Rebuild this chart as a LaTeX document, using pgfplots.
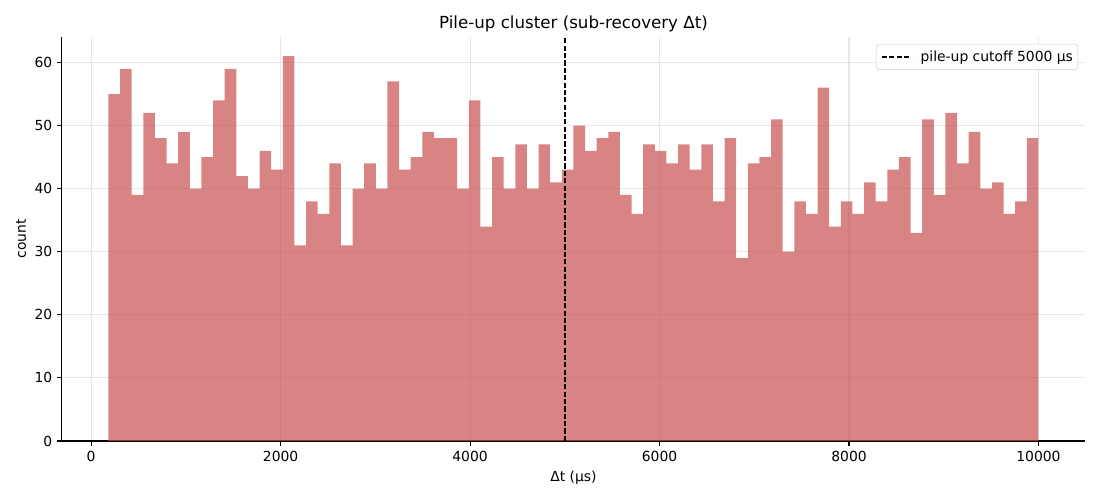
\documentclass[border=0pt]{standalone}
\usepackage{pgfplots}
\pgfplotsset{compat=1.18}
\usepackage{fontspec}
\setmainfont{DejaVu Sans}
\definecolor{barc}{RGB}{200,80,80}
\definecolor{gridc}{RGB}{176,176,176}
\definecolor{legc}{RGB}{204,204,204}
\begin{document}
\begin{tikzpicture}
\begin{axis}[
  at={(0,0)}, anchor=south west,
  scale only axis, width=736.6pt, height=290.9pt,
  xmin=-308, xmax=10491, ymin=0, ymax=64.05,
  axis x line*=bottom, axis y line*=left,
  axis line style={line width=0.8pt, black},
  xtick={0,2000,4000,6000,8000,10000},
  ytick={0,10,20,30,40,50,60},
  tick align=outside,
  major tick length=3.5pt,
  every tick/.style={line width=0.8pt, black},
  minor tick num=0,
  scaled x ticks=false, scaled y ticks=false,
  /pgf/number format/1000 sep={},
  /pgf/number format/assume math mode=true,
  ticklabel style={font=\fontsize{10}{12}\selectfont},
  xmajorgrids, ymajorgrids,
  major grid style={gridc, opacity=0.3, line width=0.8pt},
  legend style={at={(1,1)}, anchor=north east, xshift=-5pt, yshift=-5pt,
    draw=legc, rounded corners=2pt, fill=white, fill opacity=0.8, text opacity=1,
    font=\fontsize{10}{12}\selectfont, inner xsep=1.5pt, inner ysep=2.6pt},
  legend cell align=left,
  legend image code/.code={\draw[#1] (-4.3pt,0pt) -- (15.2pt,0pt); \path (-6.5pt,0pt) (21pt,0pt);},
]
\addplot[ybar interval, fill=barc, fill opacity=0.7, draw=none, forget plot] coordinates {
(183.0,55) (305.7,59) (428.4,39) (551.1,52) (673.9,48) (796.6,44) (919.3,49) (1042.0,40)
(1164.7,45) (1287.4,54) (1410.1,59) (1532.8,42) (1655.5,40) (1778.3,46) (1901.0,43) (2023.7,61)
(2146.4,31) (2269.1,38) (2391.8,36) (2514.5,44) (2637.3,31) (2759.9,40) (2882.7,44) (3005.4,40)
(3128.1,57) (3250.8,43) (3373.5,45) (3496.2,49) (3619.0,48) (3741.7,48) (3864.4,40) (3987.1,54)
(4109.8,34) (4232.5,45) (4355.2,40) (4477.9,47) (4600.7,40) (4723.4,47) (4846.1,41) (4968.8,43)
(5091.5,50) (5214.2,46) (5336.9,48) (5459.6,49) (5582.3,39) (5705.1,36) (5827.8,47) (5950.5,46)
(6073.2,44) (6195.9,47) (6318.6,43) (6441.3,47) (6564.0,38) (6686.8,48) (6809.5,29) (6932.2,44)
(7054.9,45) (7177.6,51) (7300.3,30) (7423.0,38) (7545.8,36) (7668.5,56) (7791.2,34) (7913.9,38)
(8036.6,36) (8159.3,41) (8282.0,38) (8404.8,43) (8527.5,45) (8650.2,33) (8772.9,51) (8895.6,39)
(9018.3,52) (9141.0,44) (9263.7,49) (9386.4,40) (9509.2,41) (9631.9,36) (9754.6,38) (9877.3,48)
(10000,48)
};
\addplot[black, line width=1pt, dash pattern=on 3.7pt off 1.6pt] coordinates {(5000,0) (5000,64.05)};
\addlegendentry{pile-up cutoff 5000 μs}
\end{axis}
\node[anchor=base, font=\fontsize{12}{14}\selectfont] at (368.3pt, 296.9pt) {Pile-up cluster (sub-recovery Δt)};
\node[anchor=base, font=\fontsize{10}{12}\selectfont] at (368.3pt, -29.5pt) {Δt (μs)};
\node[rotate=90, font=\fontsize{10}{12}\selectfont] at (-29.5pt, 145.45pt) {count};
\path[use as bounding box] (-44.6pt,-42.5pt) rectangle (747.4pt,317.5pt);
\end{tikzpicture}
\end{document}
